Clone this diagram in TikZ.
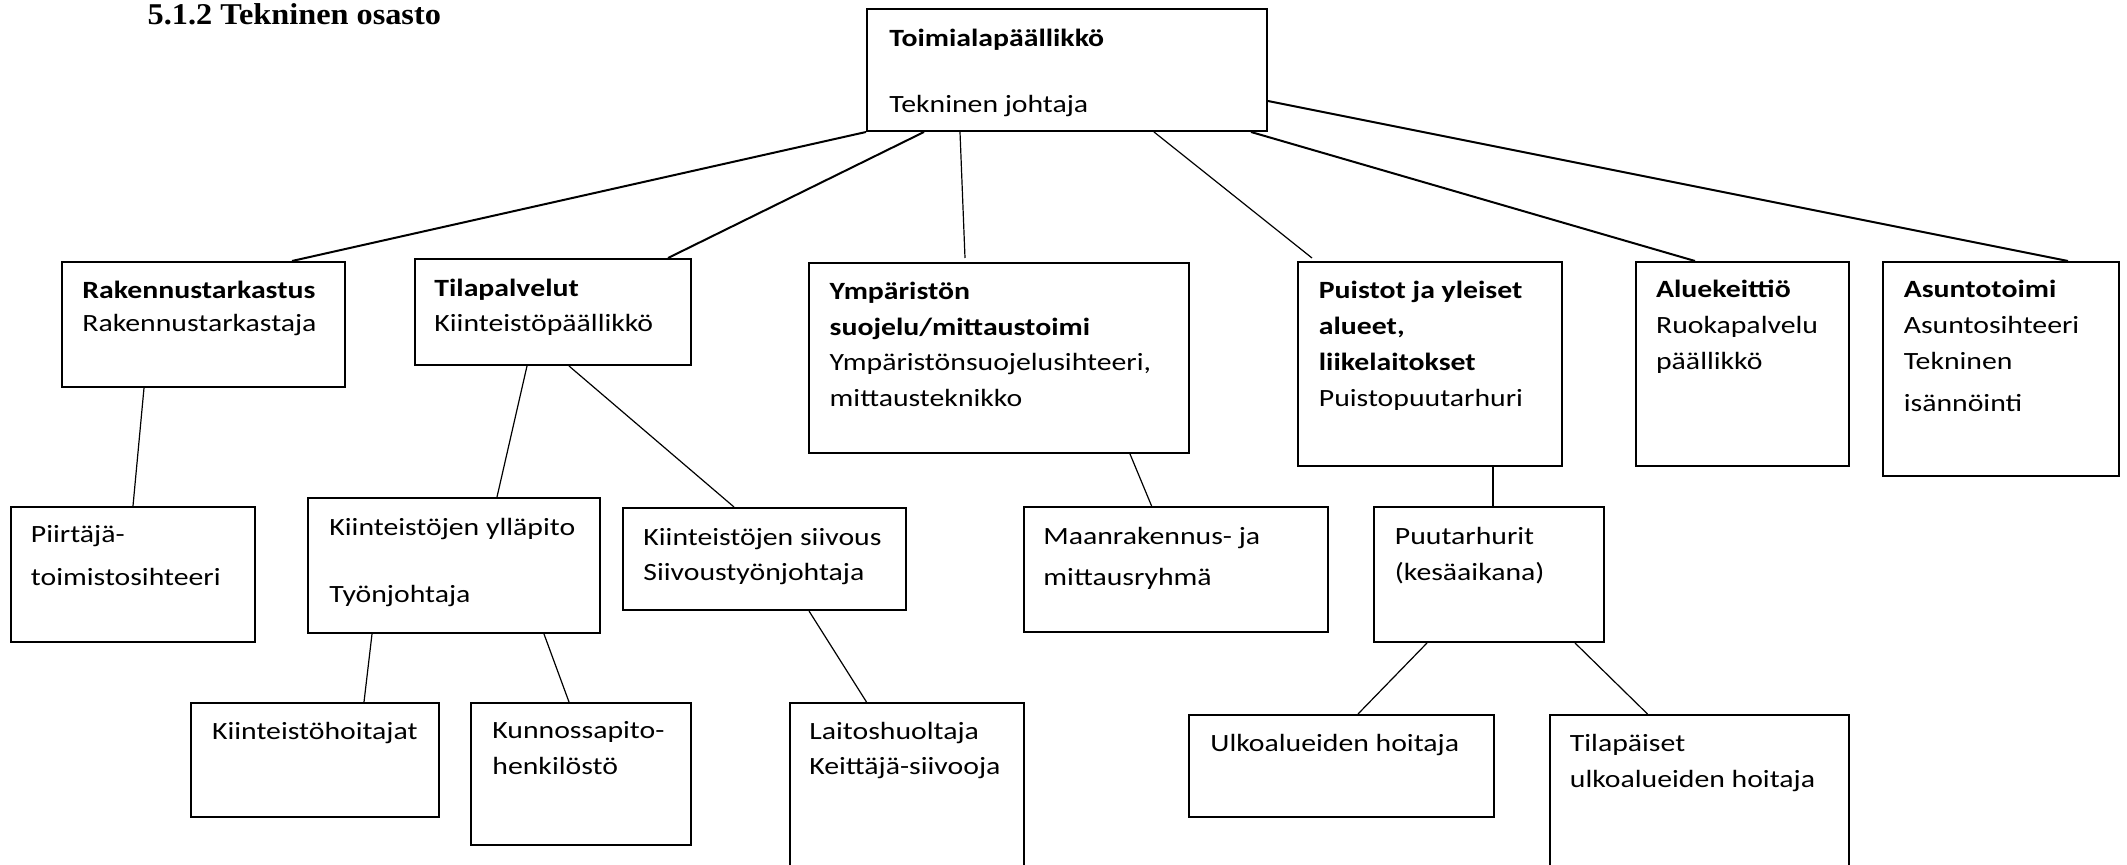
\documentclass[tikz,border=0pt]{standalone}
\usepackage{fontspec}
\setmainfont{Carlito}[FakeStretch=1.2]
\newfontfamily\titlefont{Liberation Serif}[FakeStretch=1.07]
\usetikzlibrary{calc}
\newcommand{\mysize}[1]{\fontsize{12.4}{#1}\selectfont}
\tikzset{
  box/.style={draw,line width=1pt,rectangle,inner sep=0pt,anchor=north west},
  wh/.style n args={2}{minimum width=#1*0.5pt,minimum height=#2*0.5pt},
  txt/.style={anchor=base west,align=left,inner sep=0pt},
  bs/.style={font={\mysize{#1}}},
  thick link/.style={line width=1pt},
  thin link/.style={line width=0.6pt}}
\begin{document}
\begin{tikzpicture}[x=0.5pt,y=-0.5pt]
\clip (0,0) rectangle (2127,865);
\fill[white] (0,0) rectangle (2127,865);
% title
\node[anchor=base west,inner sep=0pt,font=\titlefont\bfseries\fontsize{15.1}{18}\selectfont] (title) at (147.3,25) {5.1.2 Tekninen osasto};
% boxes
\node[box,wh={400}{122}] (top) at (866,8) {};
\node[box,wh={283}{125}] (rak) at (61,261) {};
\node[box,wh={276}{106}] (tila) at (414,258) {};
\node[box,wh={380}{190}] (ymp) at (808,262) {};
\node[box,wh={264}{204}] (puis) at (1297,261) {};
\node[box,wh={213}{204}] (alue) at (1635,261) {};
\node[box,wh={236}{214}] (asun) at (1882,261) {};
\node[box,wh={244.5}{135}] (piir) at (9.5,506) {};
\node[box,wh={291.5}{135}] (yll) at (307,497) {};
\node[box,wh={282.5}{102}] (siiv) at (622,507) {};
\node[box,wh={304}{125}] (maan) at (1022.6,506) {};
\node[box,wh={230}{135}] (puut) at (1373,506) {};
\node[box,wh={248}{114}] (hoit) at (190,702) {};
\node[box,wh={220}{142}] (kunn) at (470,702) {};
\node[box,wh={234}{198}] (lait) at (788.5,702) {};
\node[box,wh={305}{102}] (ulko) at (1188,714) {};
\node[box,wh={299.5}{186}] (tilap) at (1548.5,714) {};
% texts (anchored at the baseline of their last line)
\node[txt,bs=16.7pt] (top-t) at (889,113) {\textbf{Toimialapäällikkö}\\[16.7pt]Tekninen johtaja};
\node[txt,bs=16.35pt] (rak-t) at (82,331.7) {\textbf{Rakennustarkastus}\\Rakennustarkastaja};
\node[txt,bs=17.6pt] (tila-t) at (434,332) {\textbf{Tilapalvelut}\\Kiinteistöpäällikkö};
\node[txt,bs=17.9pt] (ymp-t) at (829.3,406.7) {\textbf{Ympäristön}\\\textbf{suojelu/mittaustoimi}\\Ympäristönsuojelusihteeri,\\mittausteknikko};
\node[txt,bs=18.15pt] (puis-t) at (1318.5,407) {\textbf{Puistot ja yleiset}\\\textbf{alueet,}\\\textbf{liikelaitokset}\\Puistopuutarhuri};
\node[txt,bs=18pt] (alue-t) at (1655.7,370) {\textbf{Aluekeittiö}\\Ruokapalvelu\\päällikkö};
\node[txt,bs=18pt] (asun-t) at (1903.4,412) {\textbf{Asuntotoimi}\\Asuntosihteeri\\Tekninen\\[3pt]isännöinti};
\node[txt,bs=21.35pt] (piir-t) at (30.5,585.7) {Piirtäjä-\\toimistosihteeri};
\node[txt,bs=16.8pt] (yll-t) at (329,603) {Kiinteistöjen ylläpito\\[16.8pt]Työnjohtaja};
\node[txt,bs=17.5pt] (siiv-t) at (643,581) {Kiinteistöjen siivous\\Siivoustyönjohtaja};
\node[txt,bs=20.35pt] (maan-t) at (1043,585.7) {Maanrakennus- ja\\mittausryhmä};
\node[txt,bs=17.75pt] (puut-t) at (1394.5,580.5) {Puutarhurit\\(kesäaikana)};
\node[txt,bs=18pt] (hoit-t) at (211.7,740) {Kiinteistöhoitajat};
\node[txt,bs=18pt] (kunn-t) at (492,775) {Kunnossapito-\\henkilöstö};
\node[txt,bs=17.5pt] (lait-t) at (809,775) {Laitoshuoltaja\\Keittäjä-siivooja};
\node[txt,bs=18pt] (ulko-t) at (1210,751.7) {Ulkoalueiden hoitaja};
\node[txt,bs=18pt] (tilap-t) at (1569.5,787.7) {Tilapäiset\\ulkoalueiden hoitaja};
% connectors
\draw[thick link] (top.south west) -- ($(rak.north west)+(231,0)$);
\draw[thick link] ($(top.south west)+(58,0)$) -- ($(tila.north west)+(254,0)$);
\draw[thin link] ($(top.south west)+(94,0)$) -- ($(ymp.north west)+(157,-4)$);
\draw[thin link] ($(top.south west)+(288,0)$) -- ($(puis.north west)+(15,-3)$);
\draw[thick link] ($(top.south west)+(385,0)$) -- ($(alue.north west)+(60,0)$);
\draw[thick link] ($(top.south east)+(0,-31)$) -- ($(asun.north west)+(186,0)$);
\draw[thin link] ($(rak.south west)+(83,0)$) -- ($(piir.north west)+(123.5,0)$);
\draw[thin link] ($(tila.south west)+(113,0)$) -- ($(yll.north west)+(190,0)$);
\draw[thin link] ($(tila.south west)+(155,0)$) -- ($(siiv.north west)+(112,0)$);
\draw[thin link] ($(ymp.south west)+(322,0)$) -- ($(maan.north west)+(129,0)$);
\draw[thin link] ($(puis.south west)+(196,0)$) -- ($(puut.north west)+(120,0)$);
\draw[thin link] ($(yll.south west)+(65,0)$) -- ($(hoit.north west)+(174,0)$);
\draw[thin link] ($(yll.south west)+(237,0)$) -- ($(kunn.north west)+(99,0)$);
\draw[thin link] ($(siiv.south west)+(187,0)$) -- ($(lait.north west)+(78,0)$);
\draw[thin link] ($(puut.south west)+(54,0)$) -- ($(ulko.north west)+(170,0)$);
\draw[thin link] ($(puut.south west)+(202,0)$) -- ($(tilap.north west)+(99,0)$);
\end{tikzpicture}
\end{document}
